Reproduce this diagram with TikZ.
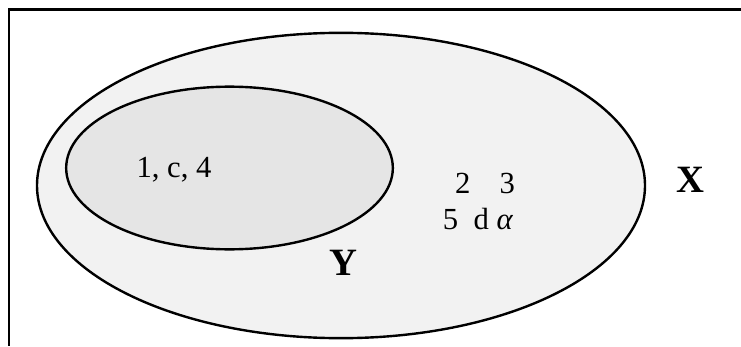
\documentclass[tikz,border=0pt]{standalone}
\usepackage{fontspec}
\setmainfont{Liberation Serif}
\usetikzlibrary{shapes.geometric}
\definecolor{outerfill}{HTML}{F2F2F2}
\definecolor{innerfill}{HTML}{E5E5E5}
\tikzset{
  frameline/.style={line width=2.2pt, black},
  setbig/.style={ellipse, draw=black, fill=outerfill, line width=1.8pt, inner sep=0pt, minimum width=456pt, minimum height=229pt},
  setsmall/.style={ellipse, draw=black, fill=innerfill, line width=1.8pt, inner sep=0pt, minimum width=245pt, minimum height=122pt},
  elem/.style={inner sep=0pt, font=\fontsize{23}{27}\selectfont},
  setname/.style={inner sep=0pt, font=\fontsize{29}{33}\selectfont\bfseries}
}
\begin{document}
\begin{tikzpicture}[x=0.75pt, y=-0.75pt]
  \useasboundingbox (0,0) rectangle (741,346);
  \draw[frameline] (741,9.5) -- (9,9.5) -- (9,346);
  \node[setbig] (X) at (341,185.5) {};
  \node[setsmall] (Y) at (229.5,168) {};
  \node[elem] (inY) at (174,170) {1, c, 4};
  \node[elem] (row1) at (485,183) {2\hspace{0.95em}3};
  \node[elem] (row2) at (478,219) {5\hspace{0.5em}d\hspace{0.25em}\textit{α}};
  \node[setname] (nameY) at (343,263) {Y};
  \node[setname] (nameX) at (690,180) {X};
\end{tikzpicture}
\end{document}
